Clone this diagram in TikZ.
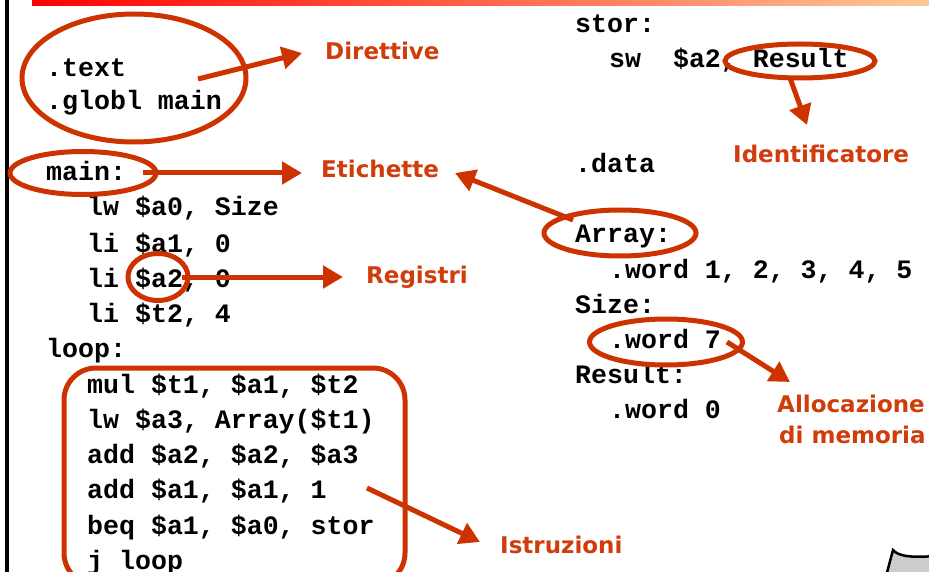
\documentclass[tikz,border=0pt]{standalone}
\usepackage{fontspec}
\usetikzlibrary{arrows.meta,shapes.geometric}
\newfontfamily\codefont{Liberation Mono}
\newfontfamily\lblfont{DejaVu Sans}
\definecolor{acc}{RGB}{204,51,0}
\definecolor{lblcol}{RGB}{208,60,10}
\definecolor{barR}{RGB}{255,200,150}
\definecolor{grayfill}{RGB}{204,204,204}
\begin{document}
\begin{tikzpicture}[x=1pt,y=-1pt,
  codetext/.style={anchor=base west, inner sep=0pt, font=\codefont\bfseries\fontsize{26.6}{30}\selectfont},
  lbltext/.style={anchor=base west, inner sep=0pt, text=lblcol, font=\lblfont\bfseries\fontsize{23}{26}\selectfont},
  ring/.style={ellipse, draw=acc, line width=5pt, inner sep=0pt},
  arr/.style={draw=acc, line width=5pt, -{Triangle[length=20pt,width=22pt]}}
]
\useasboundingbox (0,0) rectangle (929,572);
\clip (0,0) rectangle (929,572);
% frame
\shade[left color=red, right color=barR] (32,0) rectangle (929,6);
\draw[line width=4pt] (7,-2) -- (7,580);
\draw[line width=2.5pt, fill=grayfill] (885,580) -- (893,550) .. controls (898,556) and (910,558) .. (935,556) -- (935,580) -- cycle;
% left code
\node[codetext] (t1) at (46,77) {.text};
\node[codetext] (t2) at (46,110) {.globl main};
\node[codetext] (t3) at (46,181) {main:};
\node[codetext] (t4) at (87,216) {lw \$a0, Size};
\node[codetext] (t5) at (87,252) {li \$a1, 0};
\node[codetext] (t6) at (87,287) {li \$a2, 0};
\node[codetext] (t7) at (87,322) {li \$t2, 4};
\node[codetext] (t8) at (46,357) {loop:};
\node[codetext] (t9) at (87,393) {mul \$t1, \$a1, \$t2};
\node[codetext] (t10) at (87,428) {lw \$a3, Array(\$t1)};
\node[codetext] (t11) at (87,463) {add \$a2, \$a2, \$a3};
\node[codetext] (t12) at (87,498) {add \$a1, \$a1, 1};
\node[codetext] (t13) at (87,534) {beq \$a1, \$a0, stor};
\node[codetext] (t14) at (87,569) {j loop};
% right code
\node[codetext] (r1) at (575,33) {stor:};
\node[codetext] (r2) at (609,68) {sw\ \ \$a2, Result};
\node[codetext] (r3) at (575,173) {.data};
\node[codetext] (r4) at (575,243) {Array:};
\node[codetext] (r5) at (609,278) {.word 1, 2, 3, 4, 5};
\node[codetext] (r6) at (575,313) {Size:};
\node[codetext] (r7) at (609,348) {.word 7};
\node[codetext] (r8) at (575,383) {Result:};
\node[codetext] (r9) at (609,418) {.word 0};
% rings
\node[ring, minimum width=224pt, minimum height=128pt] (eDir) at (134,78) {};
\node[ring, minimum width=146pt, minimum height=43pt] (eMain) at (83,173) {};
\node[ring, minimum width=60pt, minimum height=47pt] (eReg) at (158,277) {};
\node[ring, minimum width=150pt, minimum height=34pt] (eRes) at (800,61) {};
\node[ring, minimum width=152pt, minimum height=46pt] (eArr) at (620,233) {};
\node[ring, minimum width=153pt, minimum height=46pt] (eWord) at (666,342) {};
\node[draw=acc, line width=5pt, rounded corners=32pt, minimum width=341pt, minimum height=217pt, inner sep=0pt] (box) at (234.5,476.5) {};
% labels
\node[lbltext] (lDir) at (325,60) {Direttive};
\node[lbltext] (lEti) at (321,178) {Etichette};
\node[lbltext] (lReg) at (366,283) {Registri};
\node[lbltext] (lId) at (733,163) {Identificatore};
\node[lbltext] (lAll) at (777,412) {Allocazione};
\node[lbltext] (lMem) at (779,443) {di memoria};
\node[lbltext] (lIst) at (500,553) {Istruzioni};
% arrows
\coordinate (sDir) at (198,79);  \coordinate (hDir) at (302,53);
\coordinate (sEti) at (143,173); \coordinate (hEti) at (302,173);
\coordinate (sReg) at (182,277); \coordinate (hReg) at (343,277);
\coordinate (sArr) at (573,220); \coordinate (hArr) at (455,173);
\coordinate (sId) at (790,78);   \coordinate (hId) at (807,125);
\coordinate (sAll) at (727,342); \coordinate (hAll) at (790,382);
\coordinate (sIst) at (367,488); \coordinate (hIst) at (480,542);
\draw[arr] (sDir) -- (hDir);
\draw[arr] (sEti) -- (hEti);
\draw[arr] (sReg) -- (hReg);
\draw[arr] (sArr) -- (hArr);
\draw[arr] (sId) -- (hId);
\draw[arr] (sAll) -- (hAll);
\draw[arr] (sIst) -- (hIst);
\end{tikzpicture}
\end{document}
